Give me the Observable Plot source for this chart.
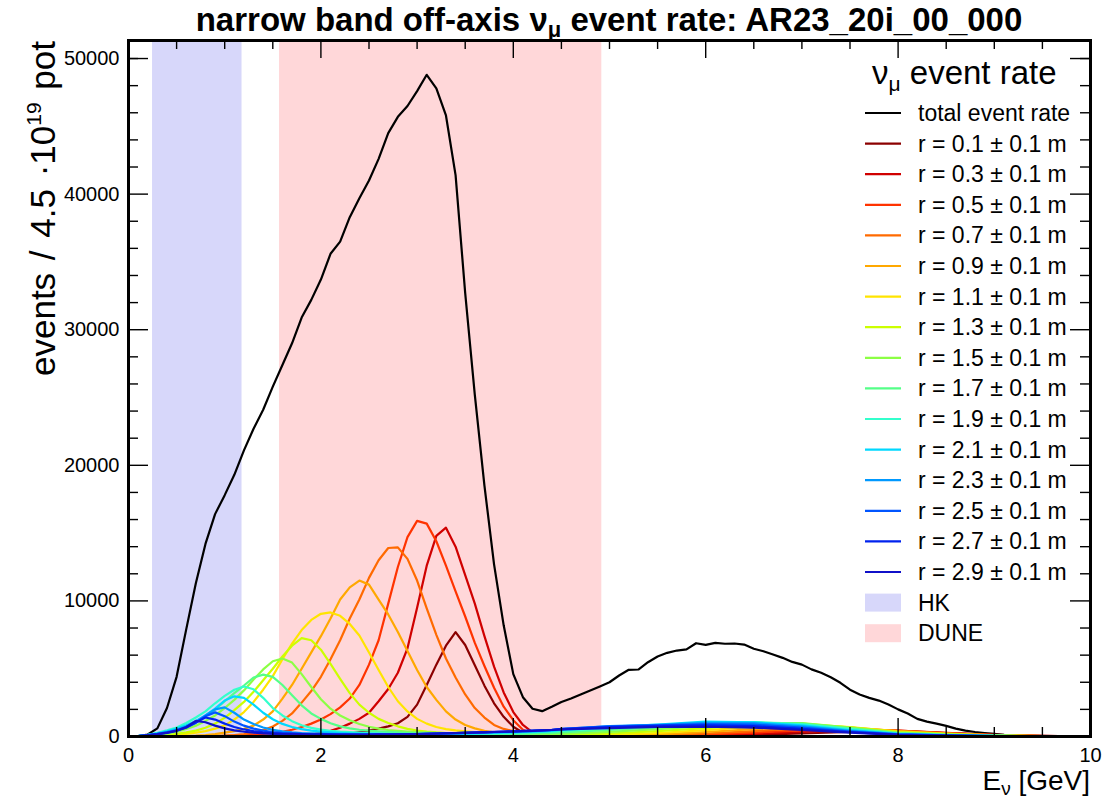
<!DOCTYPE html>
<html><head><meta charset="utf-8">
<script src="https://cdn.jsdelivr.net/npm/d3@7"></script>
<script src="https://cdn.jsdelivr.net/npm/@observablehq/plot@0.6"></script>
<style>
html,body{margin:0;padding:0;background:#fff;}
#wrap{position:relative;width:1103px;height:801px;font-family:"Liberation Sans",Arial,sans-serif;}
#wrap svg{position:absolute;left:0;top:0;}
</style></head><body><div id="wrap"></div>
<script>
// ---------------- data ----------------
const radii = [0.1,0.3,0.5,0.7,0.9,1.1,1.3,1.5,1.7,1.9,2.1,2.3,2.5,2.7,2.9];
const radiusColors = ["#8b0000","#d00000","#ff3300","#ff6a00","#ffa800","#ffe400","#ccff00","#8cff44","#55ff88","#33ffcc","#00d8ff","#0099ff","#0055ff","#0022ee","#1010c8"];
const hkRange = [0.25, 1.18];
const duneRange = [1.57, 4.92];
const hkColor = "#d7d7fa";
const duneColor = "#ffd7d9";

const totalEnergy = [0.0,0.1,0.2,0.3,0.4,0.5,0.6,0.7,0.8,0.9,1.0,1.1,1.2,1.3,1.4,1.5,1.6,1.7,1.8,1.9,2.0,2.1,2.2,2.3,2.4,2.5,2.6,2.7,2.8,2.9,3.0,3.1,3.2,3.3,3.4,3.5,3.6,3.7,3.8,3.9,4.0,4.1,4.2,4.3,4.4,4.5,4.6,4.7,4.8,4.9,5.0,5.1,5.2,5.3,5.4,5.5,5.6,5.7,5.8,5.9,6.0,6.1,6.2,6.3,6.4,6.5,6.6,6.7,6.8,6.9,7.0,7.1,7.2,7.3,7.4,7.5,7.6,7.7,7.8,7.9,8.0,8.1,8.2,8.3,8.4,8.5,8.6,8.7,8.8,8.9,9.0,9.1,9.2,9.3,9.4,9.5,9.6,9.7,9.8,9.9,10.0];
const totalRate = [0,30,150,600,2100,4400,7900,11300,14200,16400,
  17800,19300,21100,22700,24100,25800,27400,29000,30900,32200,
  33700,35600,36500,38300,39700,41000,42600,44500,45700,46500,
  47600,48800,47800,45800,41400,32700,25200,18500,12700,8200,
  4600,2900,2050,1870,2200,2550,2800,3100,3390,3690,
  4000,4500,4920,4940,5480,5900,6170,6340,6420,6880,
  6760,6910,6840,6860,6780,6470,6290,6050,5800,5500,
  5300,4950,4700,4370,3960,3450,3100,2850,2650,2360,
  2000,1700,1300,1100,950,780,580,430,330,260,
  200,130,100,50,20,0,0,0,0,0,0];

// energy grid of the narrow-band curves: fine below 4.5 GeV, coarse above
const energyLow = [0.0,0.1,0.2,0.3,0.4,0.5,0.6,0.7,0.8,0.9,1.0,1.1,1.2,1.3,1.4,1.5,1.6,1.7,1.8,1.9,2.0,2.1,2.2,2.3,2.4,2.5,2.6,2.7,2.8,2.9,3.0,3.1,3.2,3.3,3.4,3.5,3.6,3.7,3.8,3.9,4.0,4.1,4.2,4.3,4.4];
const energyHigh = [4.5,5.0,5.5,6.0,6.5,7.0,7.5,8.0,8.5,9.0,9.5,10.0];

const rateR01 = [0,0,0,0,0,0,0,0,0,0,0,0,0,0,0,0,
  10,20,30,50,70,100,150,220,320,430,580,750,980,1450,2350,3800,5300,6700,7700,6750,5250,3750,2450,1450,720,280,80,20,10,
  0,0,20,60,130,220,330,380,250,120,40,0];
const rateR03 = [0,0,0,0,0,0,0,0,0,0,0,0,0,
  10,20,30,50,70,100,150,250,420,650,950,1300,1750,2600,3500,4700,6500,9500,12600,14800,15400,14000,11900,9800,7400,5150,3250,1800,850,300,100,40,
  0,8,35,100,200,330,440,440,270,120,40,0];
const rateR05 = [0,0,0,0,0,0,0,0,0,0,
  50,70,100,140,190,250,350,500,700,950,1250,1650,2150,2800,3800,5300,7100,9800,12500,14700,15900,15700,14400,12600,10700,8850,6900,5200,3600,2200,1200,500,180,60,20,
  5,15,60,150,290,450,520,430,260,110,35,0];
const rateR07 = [0,0,0,0,0,0,0,0,
  20,40,70,110,180,300,480,740,1150,1700,2500,3350,4400,5700,7100,8700,10100,11700,13000,13900,13950,13100,11500,9450,7500,5750,4350,3100,2100,1400,850,560,400,200,80,30,10,
  10,30,100,220,400,600,600,420,240,100,30,0];
const rateR09 = [0,0,0,0,0,0,
  30,60,110,180,280,400,560,800,1250,1850,2800,3800,5000,6200,7400,8700,10100,11000,11500,11200,10100,9000,7700,6300,4900,3650,2700,1850,1250,850,600,420,300,200,130,70,30,20,20,
  20,60,160,330,540,750,660,400,220,90,30,0];
const rateR11 = [0,0,0,
  30,70,120,190,280,400,580,820,1250,1800,2550,3450,4450,5700,6850,7850,8600,9050,9150,8900,8300,7450,6200,4900,3650,2600,1850,1300,950,700,540,450,380,320,270,220,180,140,100,60,40,40,
  50,120,260,470,700,880,690,370,190,80,25,0];
const rateR13 = [0,0,
  20,60,120,190,300,430,650,950,1380,1950,2550,3300,4150,5000,5900,6700,7250,7100,6400,5350,4250,3200,2350,1750,1300,1000,750,560,440,360,300,260,230,200,180,160,140,120,100,90,80,80,90,
  110,220,400,620,850,950,680,330,170,70,20,0];
const rateR15 = [0,
  10,50,110,200,350,550,800,1150,1550,2100,2700,3400,4200,4950,5550,5750,5450,4600,3650,2750,2050,1550,1200,920,720,580,480,420,370,330,300,270,250,230,210,190,170,160,150,140,140,150,160,180,
  200,340,540,760,960,980,650,290,150,60,20,0];
const rateR17 = [0,
  20,100,200,370,550,780,1070,1500,1970,2600,3200,3760,4350,4560,4400,3800,3050,2300,1700,1300,980,750,600,500,430,380,340,300,270,250,230,210,200,190,180,170,170,170,180,190,200,220,240,270,
  310,480,680,880,1040,960,600,250,130,50,15,0];
const rateR19 = [0,
  30,130,270,450,660,1000,1400,1850,2450,3000,3450,3690,3480,2850,2100,1550,1130,830,640,510,420,360,320,290,260,240,220,200,190,180,180,170,170,170,180,190,200,220,240,260,280,300,330,360,
  420,620,800,1000,1060,900,540,220,110,45,15,0];
const rateR21 = [0,
  30,120,230,390,590,830,1150,1550,2050,2650,2960,2850,2350,1750,1270,930,700,540,430,360,310,270,240,220,200,190,180,170,170,170,170,180,190,200,210,230,250,270,290,310,330,350,380,410,
  490,720,880,1100,1040,820,480,200,100,40,12,0];
const rateR23 = [0,
  30,110,200,330,500,730,1050,1550,2000,2150,1750,1250,920,660,490,380,310,260,230,210,190,180,170,160,160,160,160,160,170,180,190,200,210,230,250,270,290,310,330,350,370,400,430,460,
  540,760,860,1000,980,740,420,180,90,35,10,0];
const rateR25 = [0,
  30,100,190,300,450,680,1000,1500,1780,1500,1100,800,580,430,330,270,230,200,180,170,160,160,150,150,150,150,150,160,170,180,190,210,230,250,270,290,310,330,350,370,400,420,450,480,
  570,740,830,920,880,650,370,160,80,30,10,0];
const rateR27 = [0,
  30,90,170,280,430,650,1050,1400,1250,950,700,520,400,310,250,210,190,170,160,150,150,140,140,140,140,150,150,160,170,180,200,220,240,260,280,300,320,340,360,380,410,430,460,490,
  550,690,780,820,760,560,320,140,70,25,8,0];
const rateR29 = [0,
  30,90,160,270,420,700,1150,1050,800,600,450,350,280,230,200,180,160,150,140,140,130,130,130,130,130,140,140,150,160,170,190,210,230,250,270,290,310,330,350,370,400,420,450,480,
  520,620,700,720,660,480,280,120,60,20,6,0];

const radiusRates = [rateR01,rateR03,rateR05,rateR07,rateR09,rateR11,rateR13,rateR15,rateR17,rateR19,rateR21,rateR23,rateR25,rateR27,rateR29];

const xMajorTicks = [0,2,4,6,8,10];
const xMinorTicks = [0.5,1,1.5,2.5,3,3.5,4.5,5,5.5,6.5,7,7.5,8.5,9,9.5];
const yMajorTicks = [0,10000,20000,30000,40000,50000];
const yMinorTicks = [2000,4000,6000,8000,12000,14000,16000,18000,22000,24000,26000,28000,32000,34000,36000,38000,42000,44000,46000,48000,50000];
const yTop = 51330;

// ---------------- layout ----------------
const W = 1103, H = 801;
const mTop = 40, mRight = 13, mBottom = 65, mLeft = 128;
const innerW = W - mLeft - mRight, innerH = H - mTop - mBottom;
const font = "Liberation Sans, Arial, Helvetica, sans-serif";

const energyAll = energyLow.concat(energyHigh);
const totalRows = totalEnergy.map((e, i) => ({E: e, v: totalRate[i]}));
const radiusRows = radiusRates.map(arr => energyAll.map((e, i) => ({E: e, v: arr[i]})));

const tickStyle = {stroke: "black", strokeWidth: 1.4};
const marks = [
  Plot.rect([hkRange], {x1: d => d[0], x2: d => d[1], fill: hkColor}),
  Plot.rect([duneRange], {x1: d => d[0], x2: d => d[1], fill: duneColor}),
  Plot.line(totalRows, {x: "E", y: "v", stroke: "black", strokeWidth: 2.2}),
  ...radiusRows.map((rows, i) => Plot.line(rows, {x: "E", y: "v", stroke: radiusColors[i], strokeWidth: 2.2})),
  // ticks on all four sides, pointing inward
  Plot.tickX(xMajorTicks, {x: d => d, insetTop: innerH - 18, ...tickStyle}),
  Plot.tickX(xMinorTicks, {x: d => d, insetTop: innerH - 9, ...tickStyle}),
  Plot.tickX(xMajorTicks, {x: d => d, insetBottom: innerH - 18, ...tickStyle}),
  Plot.tickX(xMinorTicks, {x: d => d, insetBottom: innerH - 9, ...tickStyle}),
  Plot.tickY(yMajorTicks, {y: d => d, insetRight: innerW - 20, ...tickStyle}),
  Plot.tickY(yMinorTicks, {y: d => d, insetRight: innerW - 10, ...tickStyle}),
  Plot.tickY(yMajorTicks, {y: d => d, insetLeft: innerW - 20, ...tickStyle}),
  Plot.tickY(yMinorTicks, {y: d => d, insetLeft: innerW - 10, ...tickStyle}),
  Plot.frame({stroke: "black", strokeWidth: 3}),
  Plot.axisX({ticks: xMajorTicks, tickSize: 0, tickPadding: 11, fontSize: 20, label: null, tickFormat: d => String(d), fill: "black"}),
  Plot.axisY({ticks: yMajorTicks, tickSize: 0, tickPadding: 9, fontSize: 20, label: null, tickFormat: d => String(d), fill: "black"})
];

const chart = Plot.plot({
  width: W, height: H,
  marginTop: mTop, marginRight: mRight, marginBottom: mBottom, marginLeft: mLeft,
  style: {fontFamily: font, background: "white", color: "black"},
  x: {domain: [0, 10]},
  y: {domain: [0, yTop]},
  marks
});
document.getElementById("wrap").appendChild(chart);

// ---------------- text overlay: title, axis titles, legend ----------------
const ov = d3.select("#wrap").append("svg")
  .attr("width", W).attr("height", H)
  .style("font-family", font);

// title
const title = ov.append("text").attr("x", mLeft + innerW / 2).attr("y", 31)
  .attr("text-anchor", "middle").attr("font-weight", "bold").attr("font-size", 33);
title.append("tspan").text("narrow band off-axis ν");
title.append("tspan").attr("font-size", 22).attr("dy", 6).text("μ");
title.append("tspan").attr("dy", -6).text(" event rate: AR23_20i_00_000");

// y title (anchored at its upper end, at the top of the frame)
const yt = ov.append("text").attr("transform", "translate(55,41) rotate(-90)")
  .attr("text-anchor", "end").attr("font-size", 35).attr("word-spacing", 3);
yt.append("tspan").text("events / 4.5 ·10");
yt.append("tspan").attr("font-size", 21).attr("dy", -14).text("19");
yt.append("tspan").attr("dy", 14).text(" pot");

// x title
const xt = ov.append("text").attr("x", mLeft + innerW).attr("y", 790)
  .attr("text-anchor", "end").attr("font-size", 28);
xt.append("tspan").text("E");
xt.append("tspan").attr("font-size", 19).attr("dy", 5).text("ν");
xt.append("tspan").attr("dy", -5).text(" [GeV]");

// legend
const lgX = 865, lgLineW = 36, lgTextX = 918, lgRow0 = 113, lgStep = 30.6;
const head = ov.append("text").attr("x", 872).attr("y", 84).attr("font-size", 33);
head.append("tspan").text("ν");
head.append("tspan").attr("font-size", 21).attr("dy", 7).text("μ");
head.append("tspan").attr("dy", -7).text(" event rate");

const lineEntries = [{label: "total event rate", color: "black"}]
  .concat(radii.map((r, i) => ({label: `r = ${r.toFixed(1)} ± 0.1 m`, color: radiusColors[i]})));
const boxEntries = [{label: "HK", color: hkColor}, {label: "DUNE", color: duneColor}];

lineEntries.forEach((e, i) => {
  const y = lgRow0 + i * lgStep;
  ov.append("line").attr("x1", lgX).attr("x2", lgX + lgLineW).attr("y1", y).attr("y2", y)
    .attr("stroke", e.color).attr("stroke-width", 2.2);
  ov.append("text").attr("x", lgTextX).attr("y", y).attr("dy", "0.35em")
    .attr("font-size", 23).text(e.label);
});
boxEntries.forEach((e, j) => {
  const y = lgRow0 + (lineEntries.length + j) * lgStep;
  ov.append("rect").attr("x", lgX).attr("y", y - 9).attr("width", lgLineW).attr("height", 18)
    .attr("fill", e.color);
  ov.append("text").attr("x", lgTextX).attr("y", y).attr("dy", "0.35em")
    .attr("font-size", 23).text(e.label);
});
</script></body></html>
